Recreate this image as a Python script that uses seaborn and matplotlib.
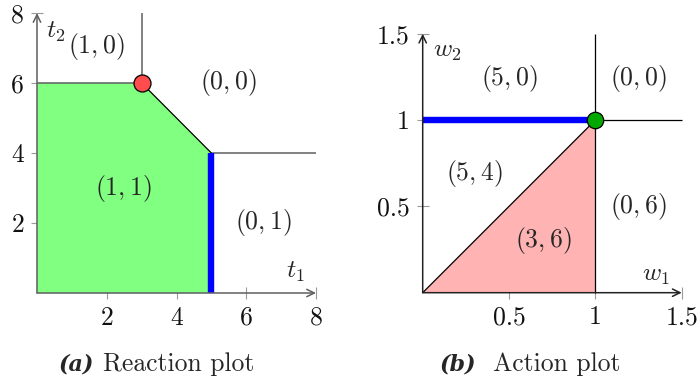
import matplotlib
matplotlib.use("Agg")
import matplotlib.pyplot as plt
import seaborn as sns

# ---- data ---------------------------------------------------------------
# (a) reaction plot: region where both respond, boundaries and equilibrium
reaction_t1 = [0, 0, 3, 5, 5]
reaction_t2 = [0, 6, 6, 4, 0]
reaction_edges_gray = [([0, 3], [6, 6]), ([3, 3], [6, 8]), ([5, 8], [4, 4])]
reaction_edges_black = [([3, 5], [6, 4])]
reaction_blue = ([5, 5], [0, 4])
reaction_point = ([3], [6])
reaction_labels = ["$(1,0)$", "$(0,0)$", "$(1,1)$", "$(0,1)$"]
reaction_label_t1 = [1.69, 5.5, 2.49, 6.5]
reaction_label_t2 = [7.04, 6.0, 3.0, 2.0]
reaction_ticks = [2, 4, 6, 8]
reaction_ticklabels = ["2", "4", "6", "8"]

# (b) action plot
action_w1 = [0, 1, 1]
action_w2 = [0, 1, 0]
action_edges = [([0, 1], [0, 1]), ([1, 1], [0, 1.5]), ([1, 1.5], [1, 1])]
action_blue = ([0, 1], [1, 1])
action_point = ([1], [1])
action_labels = ["$(5,0)$", "$(0,0)$", "$(5,4)$", "$(0,6)$", "$(3,6)$"]
action_label_w1 = [0.50, 1.25, 0.30, 1.25, 0.70]
action_label_w2 = [1.24, 1.24, 0.69, 0.50, 0.305]
action_ticks = [0.5, 1, 1.5]
action_ticklabels = ["0.5", "1", "1.5"]

# ---- style --------------------------------------------------------------
sns.set_theme(style="white")
plt.rcParams["font.family"] = ["cmr10", "DejaVu Serif"]
plt.rcParams["mathtext.fontset"] = "cm"
plt.rcParams["axes.formatter.use_mathtext"] = True
FS = 18.5

fig = plt.figure(figsize=(6.98, 3.86), dpi=100)
W, H = 698, 386
ax1 = fig.add_axes([37 / W, (H - 293) / H, 279 / W, 280 / H])
ax2 = fig.add_axes([422.7 / W, (H - 292.7) / H, 259 / W, 259 / H])


def style_axes(ax, lim, ticks, labels, axis_color):
    ax.set_xlim(0, lim)
    ax.set_ylim(0, lim)
    for s in ax.spines.values():
        s.set_visible(False)
    ax.set_xticks(ticks, labels)
    ax.set_yticks(ticks, labels)
    ax.tick_params(axis="both", which="both", direction="inout", length=8.4,
                   width=0.8, color="#9a9a9a", labelsize=FS, pad=5,
                   bottom=True, left=True, labelcolor="#111111")
    ax.patch.set_alpha(0)
    arrow = dict(arrowstyle="->,head_length=0.45,head_width=0.22",
                 color=axis_color, lw=1.1, shrinkA=0, shrinkB=0)
    ax.annotate("", xy=(lim, 0), xytext=(0, 0), arrowprops=arrow,
                annotation_clip=False, zorder=6)
    ax.annotate("", xy=(0, lim), xytext=(0, 0), arrowprops=arrow,
                annotation_clip=False, zorder=6)


def segment(ax, xs, ys, color, lw, z):
    sns.lineplot(x=xs, y=ys, ax=ax, color=color, lw=lw, sort=False,
                 estimator=None, zorder=z, clip_on=False,
                 solid_capstyle="butt")


# ---- (a) reaction plot --------------------------------------------------
ax1.fill(reaction_t1, reaction_t2, color="#80FF80", lw=0, zorder=1)
for xs, ys in reaction_edges_gray:
    segment(ax1, xs, ys, "#5f5f5f", 1.1, 3)
for xs, ys in reaction_edges_black:
    segment(ax1, xs, ys, "black", 0.9, 3)
segment(ax1, *reaction_blue, "#0000FF", 4.6, 4)
sns.scatterplot(x=reaction_point[0], y=reaction_point[1], ax=ax1, s=150,
                color="#FF4D4D", edgecolor="black", linewidth=0.9, zorder=7,
                clip_on=False)
for txt, x, y in zip(reaction_labels, reaction_label_t1, reaction_label_t2):
    ax1.text(x, y, txt, fontsize=FS, ha="center", va="center", zorder=8)
ax1.text(0.55, 7.45, "$t_2$", fontsize=FS, ha="center", va="center")
ax1.text(7.4, 0.6, "$t_1$", fontsize=FS, ha="center", va="center")
style_axes(ax1, 8, reaction_ticks, reaction_ticklabels, "#5f5f5f")

# ---- (b) action plot ----------------------------------------------------
ax2.fill(action_w1, action_w2, color="#FFB3B3", lw=0, zorder=1)
for xs, ys in action_edges:
    segment(ax2, xs, ys, "black", 0.9, 3)
segment(ax2, *action_blue, "#0000FF", 4.6, 4)
sns.scatterplot(x=action_point[0], y=action_point[1], ax=ax2, s=140,
                color="#00A800", edgecolor="black", linewidth=0.9, zorder=7,
                clip_on=False)
for txt, x, y in zip(action_labels, action_label_w1, action_label_w2):
    ax2.text(x, y, txt, fontsize=FS, ha="center", va="center", zorder=8)
ax2.text(0.14, 1.40, "$w_2$", fontsize=FS, ha="center", va="center")
ax2.text(1.35, 0.10, "$w_1$", fontsize=FS, ha="center", va="center")
style_axes(ax2, 1.5, action_ticks, action_ticklabels, "#222222")

# ---- captions -----------------------------------------------------------
cap_y = 1 - 371 / H
cap_kw = dict(fontsize=FS, va="baseline")
bold_it = dict(family=["DejaVu Serif"], weight="bold", style="italic",
               fontsize=16, va="baseline", ha="right")
fig.text(94 / W, cap_y, "(a)", **bold_it)
fig.text(103 / W, cap_y, "Reaction plot", ha="left", **cap_kw)
fig.text(476 / W, cap_y, "(b)", **bold_it)
fig.text(493 / W, cap_y, "Action plot", ha="left", **cap_kw)

fig.savefig("out.png", dpi=100)
